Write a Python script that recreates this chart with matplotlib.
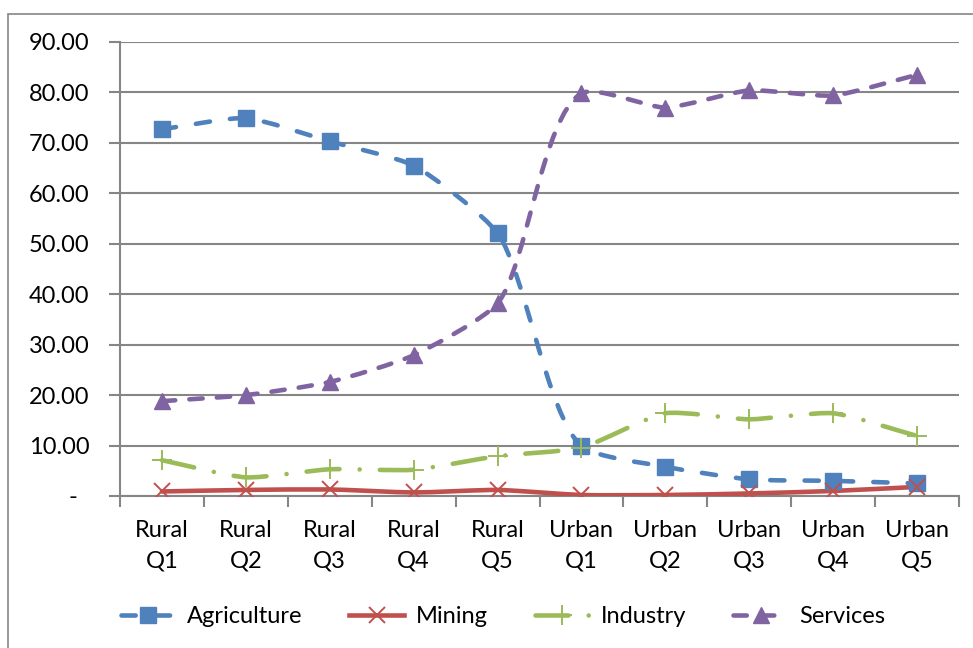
import matplotlib
matplotlib.use("Agg")
import matplotlib.pyplot as plt
from matplotlib.path import Path
from matplotlib.patches import PathPatch, Rectangle
from matplotlib.lines import Line2D
import numpy as np

categories = ["Rural\nQ1", "Rural\nQ2", "Rural\nQ3", "Rural\nQ4", "Rural\nQ5",
              "Urban\nQ1", "Urban\nQ2", "Urban\nQ3", "Urban\nQ4", "Urban\nQ5"]
agriculture = [72.7, 74.9, 70.3, 65.5, 52.1, 9.9, 5.8, 3.3, 3.0, 2.5]
mining = [0.9, 1.2, 1.3, 0.7, 1.2, 0.2, 0.2, 0.5, 1.0, 1.8]
industry = [7.1, 3.7, 5.3, 5.2, 7.9, 9.6, 16.4, 15.2, 16.4, 11.9]
services = [18.8, 20.0, 22.6, 27.9, 38.2, 79.8, 77.0, 80.4, 79.4, 83.5]
yticks = [0, 10, 20, 30, 40, 50, 60, 70, 80, 90]

plt.rcParams['font.family'] = ['Lato', 'DejaVu Sans']
FS = 17
GRAY = "#868686"
LW = 3.3


def smooth_path(xs, ys, sx, sy, k=0.2):
    # Excel-like smoothed line, bezier segments worked out in pixel space
    pts = np.column_stack([np.asarray(xs) * sx, np.asarray(ys) * sy]).astype(float)
    n = len(pts)
    tang = []
    for i in range(n):
        a = pts[i] - pts[i - 1] if i > 0 else None
        b = pts[i + 1] - pts[i] if i < n - 1 else None
        t = np.zeros(2)
        if a is not None:
            t += a / np.hypot(*a)
        if b is not None:
            t += b / np.hypot(*b)
        tang.append(t / np.hypot(*t))
    verts = [pts[0]]
    codes = [Path.MOVETO]
    for i in range(n - 1):
        L = np.hypot(*(pts[i + 1] - pts[i]))
        verts += [pts[i] + tang[i] * k * L, pts[i + 1] - tang[i + 1] * k * L, pts[i + 1]]
        codes += [Path.CURVE4] * 3
    verts = np.array(verts) / [sx, sy]
    return Path(verts, codes)


series = [
    ("Agriculture", agriculture, "#4F81BD", (0, (3.1, 4.4)), "s", 11, 1.0),
    ("Mining", mining, "#C0504D", "solid", "x", 12, 1.4),
    ("Industry", industry, "#9BBB59", (0, (7.2, 4.4, 0.01, 4.4)), "+", 15, 1.4),
    ("Services", services, "#8064A2", (0, (2.9, 3.1)), "^", 12, 1.0),
]

fig = plt.figure(figsize=(9.73, 6.48), dpi=100)
ax = fig.add_axes([120 / 973, 1 - 496 / 648, (959 - 120) / 973, (496 - 42) / 648])

x = np.arange(len(categories))
ax.set_xlim(-0.5, len(categories) - 0.5)
ax.set_ylim(0, 90)
sx = 839 / len(categories)
sy = 454 / 90

handles = []
for name, vals, color, ls, mk, ms, mew in series:
    patch = PathPatch(smooth_path(x, vals, sx, sy), facecolor="none", edgecolor=color,
                      linewidth=LW, linestyle=ls, capstyle="round", zorder=3)
    ax.add_patch(patch)
    ax.plot(x, vals, linestyle="none", marker=mk, markersize=ms, color=color,
            markeredgecolor=color, markeredgewidth=mew, zorder=4)
    handles.append(Line2D([], [], color=color, linewidth=LW, linestyle=ls,
                          dash_capstyle="round", marker=mk, markersize=ms,
                          markeredgecolor=color, markeredgewidth=mew))

ax.set_yticks(yticks)
ax.set_yticklabels(["-  " if v == 0 else "%.2f" % v for v in yticks], fontsize=FS)
ax.set_xticks(np.arange(len(categories) + 1) - 0.5)
ax.set_xticklabels([])
ax.set_xticks(x, minor=True)
ax.set_xticklabels(categories, minor=True, fontsize=FS, linespacing=1.6)
ax.tick_params(axis="x", which="major", length=8, width=1.5, color=GRAY, direction="out")
ax.tick_params(axis="x", which="minor", length=0, pad=17)
ax.tick_params(axis="y", length=8, width=1.5, color=GRAY, direction="out", pad=14)

ax.grid(axis="y", color=GRAY, linewidth=1.5)
ax.set_axisbelow(True)
for s in ["top", "right"]:
    ax.spines[s].set_visible(False)
for s in ["left", "bottom"]:
    ax.spines[s].set_color(GRAY)
    ax.spines[s].set_linewidth(1.5)

fig.legend(handles, [s[0] for s in series], loc="center", ncol=4,
           bbox_to_anchor=(0.517, 0.048), frameon=False, fontsize=FS,
           handlelength=2.3, handletextpad=0.5, columnspacing=2.0)

fig.add_artist(Rectangle((8 / 973, -0.05), 1.1, 1 - 14 / 648 + 0.05,
                         transform=fig.transFigure, fill=False,
                         edgecolor=GRAY, linewidth=1.2))

fig.savefig("out.png", dpi=100)
